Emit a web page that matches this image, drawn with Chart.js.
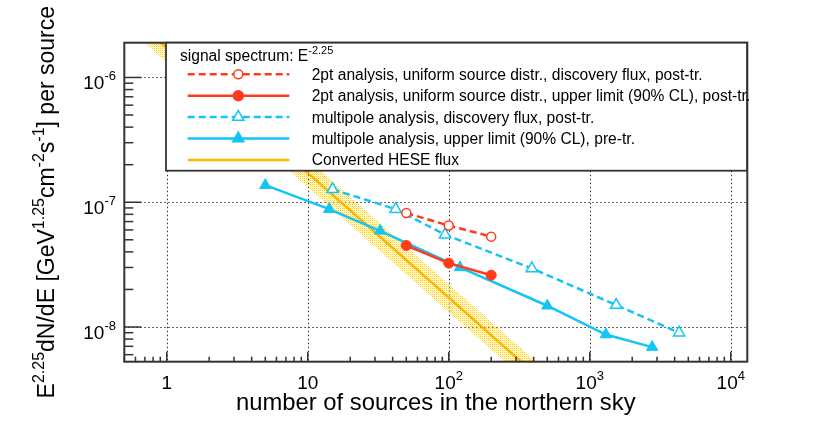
<!DOCTYPE html>
<html>
<head>
<meta charset="utf-8">
<script src="https://cdn.jsdelivr.net/npm/chart.js@4.4.0/dist/chart.umd.min.js"></script>
<style>
  html, body { margin: 0; padding: 0; background: #fff; }
  canvas { display: block; }
</style>
</head>
<body>
<canvas id="fluxChart" width="830" height="426"></canvas>
<script>
// 데이터: x = number of sources, y = E^2.25 dN/dE per source
const pt2N = [50, 100, 200];
const pt2Discovery = [8.2e-8, 6.5e-8, 5.3e-8];
const pt2UpperLimit = [4.5e-8, 3.25e-8, 2.6e-8];

const mpDiscN = [15, 42, 94, 388, 1540, 4300];
const mpDiscovery = [1.27e-7, 8.8e-8, 5.5e-8, 2.95e-8, 1.5e-8, 9.0e-9];

const mpUlN = [5, 14.2, 32.6, 120, 500, 1300, 2770];
const mpUpperLimit = [1.37e-7, 8.8e-8, 5.9e-8, 3.0e-8, 1.48e-8, 8.7e-9, 6.9e-9];

// HESE band (centre line and edges)
const heseN = [0.4, 2000];
const heseMid = [4.3e-6, 8.6e-10];
const heseHigh = [5.5e-6, 1.1e-9];
const heseLow = [3.3e-6, 6.6e-10];

const legendTitle = [['signal spectrum: E', false], ['-2.25', true]];
const legendLabels = [
    '2pt analysis, uniform source distr., discovery flux, post-tr.',
    '2pt analysis, uniform source distr., upper limit (90% CL), post-tr.',
    'multipole analysis, discovery flux, post-tr.',
    'multipole analysis, upper limit (90% CL), pre-tr.',
    'Converted HESE flux'
];

const xTickValues = [1, 10, 100, 1000, 10000];
const xTickLabels = [[['1', false]], [['10', false]], [['10', false], ['2', true]], [['10', false], ['3', true]], [['10', false], ['4', true]]];
const yTickValues = [1e-6, 1e-7, 1e-8];
const yTickLabels = [[['10', false], ['-6', true]], [['10', false], ['-7', true]], [['10', false], ['-8', true]]];

const xTitle = [['number of sources in the northern sky', false]];
const yTitle = [['E', false], ['2.25', true], ['dN/dE [GeV', false], ['1.25', true], ['cm', false], ['-2', true], ['s', false], ['-1', true], ['] per source', false]];

const RED = '#ff3b1c';
const CYAN = '#14c4f4';
const GOLD = '#f7b800';
const FONT = '"Liberation Sans", Arial, Helvetica, sans-serif';

const canvas = document.getElementById('fluxChart');
const ctx = canvas.getContext('2d');

function toXY(xs, ys) {
    return xs.map((x, i) => ({ x: x, y: ys[i] }));
}

// 밴드 채우기용 점 패턴 (흰 틈이 보이도록)
function dotPattern() {
    const c = document.createElement('canvas');
    c.width = 2;
    c.height = 2;
    const g = c.getContext('2d');
    g.fillStyle = '#ffcc00';
    g.fillRect(0, 0, 1, 1);
    g.fillStyle = 'rgba(255, 220, 60, 0.55)';
    g.fillRect(1, 1, 1, 1);
    g.fillStyle = 'rgba(255, 230, 120, 0.25)';
    g.fillRect(1, 0, 1, 1);
    return ctx.createPattern(c, 'repeat');
}

// 위첨자 포함 텍스트
function richWidth(c, parts, size, supSize) {
    let w = 0;
    parts.forEach(p => {
        c.font = (p[1] ? supSize : size) + 'px ' + FONT;
        w += c.measureText(p[0]).width;
    });
    return w;
}

function drawRich(c, parts, x, y, size, supSize, raise, align) {
    const w = richWidth(c, parts, size, supSize);
    let cx = x;
    if (align === 'center') cx = x - w / 2;
    if (align === 'right') cx = x - w;
    c.textAlign = 'left';
    c.textBaseline = 'alphabetic';
    c.fillStyle = '#000';
    parts.forEach(p => {
        c.font = (p[1] ? supSize : size) + 'px ' + FONT;
        c.fillText(p[0], cx, p[1] ? y - raise : y);
        cx += c.measureText(p[0]).width;
    });
}

function drawMarker(c, style, filled, color, r, x, y) {
    c.save();
    c.setLineDash([]);
    c.beginPath();
    if (style === 'circle') {
        c.arc(x, y, r, 0, Math.PI * 2);
    } else {
        c.moveTo(x, y - r);
        c.lineTo(x + r * 0.866, y + r / 2);
        c.lineTo(x - r * 0.866, y + r / 2);
        c.closePath();
    }
    c.fillStyle = filled ? color : '#fff';
    c.fill();
    c.lineWidth = 1.5;
    c.strokeStyle = color;
    c.stroke();
    c.restore();
}

// 그리드, 틱, 프레임, 레이블, 범례 그리기
const rootStyle = {
    id: 'rootStyle',
    beforeDatasetsDraw(chart) {
        const c = chart.ctx;
        const a = chart.chartArea;
        const xs = chart.scales.x;
        const ys = chart.scales.y;
        c.save();
        c.strokeStyle = '#333';
        c.lineWidth = 1;
        c.setLineDash([1.5, 2.5]);
        xTickValues.forEach(v => {
            const px = Math.round(xs.getPixelForValue(v)) + 0.5;
            if (px > a.left + 2 && px < a.right - 2) {
                c.beginPath();
                c.moveTo(px, a.top);
                c.lineTo(px, a.bottom);
                c.stroke();
            }
        });
        yTickValues.forEach(v => {
            const py = Math.round(ys.getPixelForValue(v)) + 0.5;
            c.beginPath();
            c.moveTo(a.left, py);
            c.lineTo(a.right, py);
            c.stroke();
        });
        c.restore();
    },
    afterDraw(chart) {
        const c = chart.ctx;
        const a = chart.chartArea;
        const xs = chart.scales.x;
        const ys = chart.scales.y;
        c.save();
        c.strokeStyle = '#333';
        c.lineWidth = 1.5;
        c.setLineDash([]);

        // x 틱 (안쪽)
        for (let d = -1; d <= 4; d++) {
            for (let m = 1; m <= 9; m++) {
                const v = m * Math.pow(10, d);
                if (v < xs.min || v > xs.max) continue;
                const px = xs.getPixelForValue(v);
                const len = m === 1 ? 10 : 5;
                c.beginPath();
                c.moveTo(px, a.bottom);
                c.lineTo(px, a.bottom - len);
                c.stroke();
            }
        }
        // y 틱 (안쪽)
        for (let d = -9; d <= -6; d++) {
            for (let m = 1; m <= 9; m++) {
                const v = m * Math.pow(10, d);
                if (v < ys.min || v > ys.max) continue;
                const py = ys.getPixelForValue(v);
                const len = m === 1 ? 17 : 9;
                c.beginPath();
                c.moveTo(a.left, py);
                c.lineTo(a.left + len, py);
                c.stroke();
            }
        }
        // 프레임
        c.lineWidth = 2;
        c.strokeRect(a.left, a.top, a.right - a.left, a.bottom - a.top);

        // 틱 레이블
        xTickValues.forEach((v, i) => {
            drawRich(c, xTickLabels[i], xs.getPixelForValue(v), 388.5, 19, 13, 8.5, 'center');
        });
        yTickValues.forEach((v, i) => {
            drawRich(c, yTickLabels[i], 116, ys.getPixelForValue(v) + 12, 19, 13, 9, 'right');
        });

        // 축 제목
        drawRich(c, xTitle, (a.left + a.right) / 2, 410, 23.8, 16, 10, 'center');
        c.save();
        c.translate(53.5, (a.top + a.bottom) / 2);
        c.rotate(-Math.PI / 2);
        drawRich(c, yTitle, 0, 0, 23, 16, 10, 'center');
        c.restore();

        // 범례
        const box = { left: 166, top: a.top, right: 747, bottom: 170.7 };
        c.fillStyle = '#fff';
        c.fillRect(box.left, box.top, box.right - box.left, box.bottom - box.top);
        c.strokeStyle = '#333';
        c.lineWidth = 1.8;
        c.strokeRect(box.left, box.top, box.right - box.left, box.bottom - box.top);

        drawRich(c, legendTitle, 180, 60.5, 15.6, 11, 6.5, 'left');

        const ds = chart.data.datasets;
        for (let i = 0; i < legendLabels.length; i++) {
            const d = ds[i];
            const y = 74.3 + i * 21.4;
            c.save();
            c.strokeStyle = d.borderColor;
            c.lineWidth = d.borderWidth;
            c.setLineDash(d.borderDash || []);
            c.beginPath();
            c.moveTo(187.7, y);
            c.lineTo(289.3, y);
            c.stroke();
            c.restore();
            if (d.pointRadius > 0) {
                drawMarker(c, d.pointStyle, d.pointBackgroundColor !== '#fff', d.borderColor, d.pointRadius, 238.3, y);
            }
            drawRich(c, [[legendLabels[i], false]], 311.7, y + 5.5, 15.6, 10, 6, 'left');
        }
        c.restore();
    }
};

const pattern = dotPattern();

new Chart(ctx, {
    type: 'line',
    data: {
        datasets: [
            {
                data: toXY(pt2N, pt2Discovery),
                borderColor: RED, borderWidth: 2.5, borderDash: [7, 4],
                pointStyle: 'circle', pointRadius: 4.5,
                pointBackgroundColor: '#fff', pointBorderColor: RED, pointBorderWidth: 1.5
            },
            {
                data: toXY(pt2N, pt2UpperLimit),
                borderColor: RED, borderWidth: 2.5,
                pointStyle: 'circle', pointRadius: 5,
                pointBackgroundColor: RED, pointBorderColor: RED, pointBorderWidth: 1
            },
            {
                data: toXY(mpDiscN, mpDiscovery),
                borderColor: CYAN, borderWidth: 2.5, borderDash: [7, 4],
                pointStyle: 'triangle', pointRadius: 6.5,
                pointBackgroundColor: '#fff', pointBorderColor: CYAN, pointBorderWidth: 1.5
            },
            {
                data: toXY(mpUlN, mpUpperLimit),
                borderColor: CYAN, borderWidth: 2.5,
                pointStyle: 'triangle', pointRadius: 6.5,
                pointBackgroundColor: CYAN, pointBorderColor: CYAN, pointBorderWidth: 1
            },
            {
                data: toXY(heseN, heseMid),
                borderColor: GOLD, borderWidth: 2.5, pointRadius: 0, clip: 0
            },
            {
                data: toXY(heseN, heseHigh),
                borderColor: 'rgba(0,0,0,0)', borderWidth: 0, pointRadius: 0,
                fill: '+1', backgroundColor: pattern, clip: 0
            },
            {
                data: toXY(heseN, heseLow),
                borderColor: 'rgba(0,0,0,0)', borderWidth: 0, pointRadius: 0, clip: 0
            }
        ]
    },
    options: {
        responsive: false,
        animation: false,
        events: [],
        layout: { padding: { left: 124.3, top: 42.7, right: 82.7, bottom: 64.3 } },
        elements: { line: { tension: 0 } },
        plugins: {
            legend: { display: false },
            tooltip: { enabled: false }
        },
        scales: {
            x: { type: 'logarithmic', min: 0.5, max: 13100, display: false },
            y: { type: 'logarithmic', min: 5.27e-9, max: 1.9e-6, display: false }
        }
    },
    plugins: [rootStyle]
});
</script>
</body>
</html>
